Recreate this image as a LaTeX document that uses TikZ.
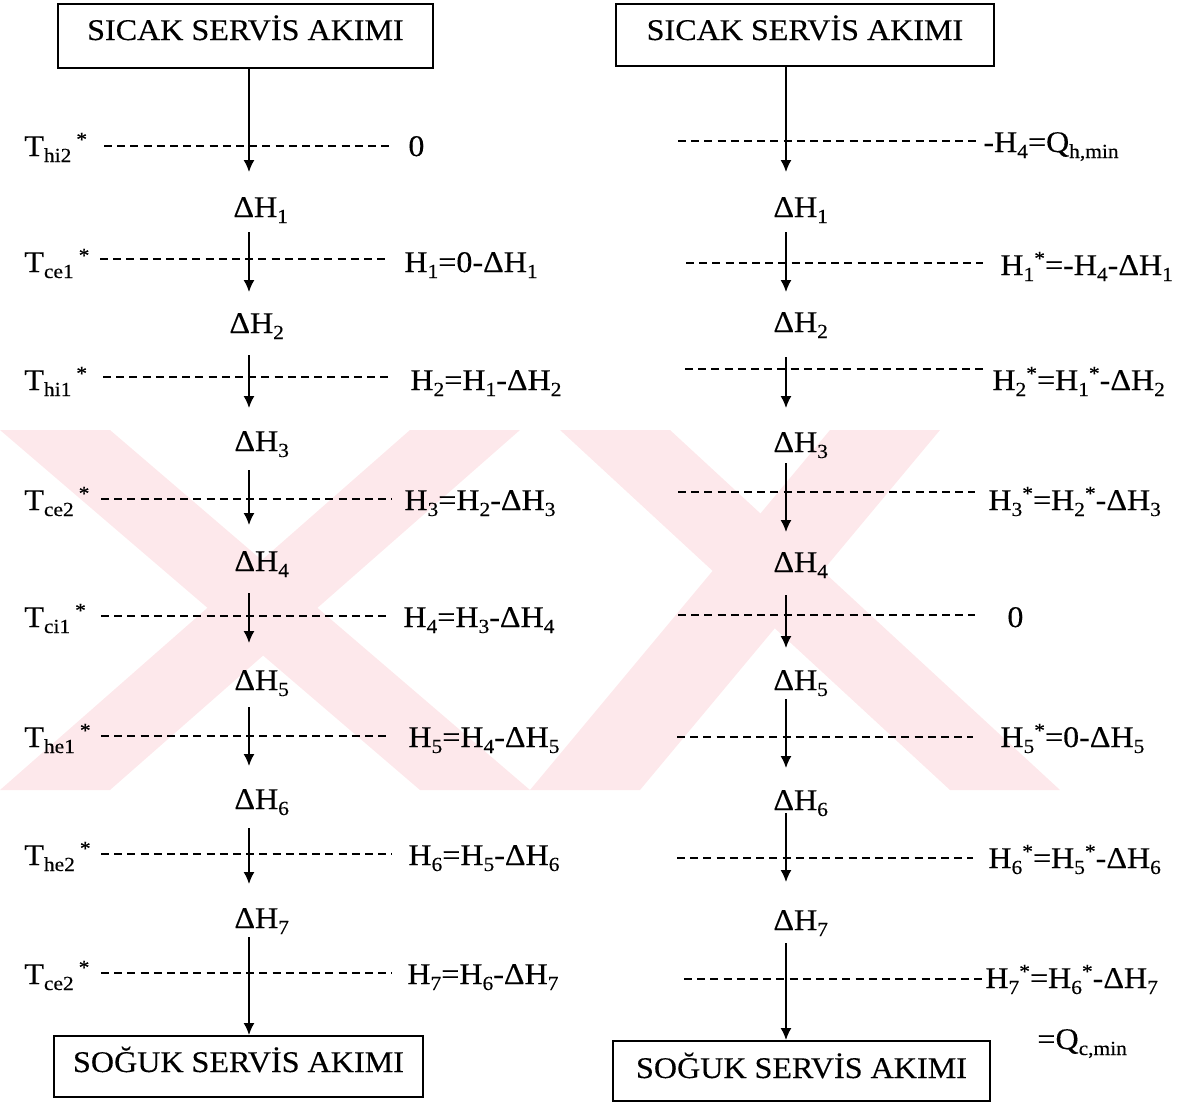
\documentclass[tikz,border=0pt]{standalone}
\usepackage{fontspec}
\setmainfont{Liberation Serif}[FakeStretch=1.07,FakeBold=0.3]
\usetikzlibrary{arrows.meta}
\definecolor{wm}{RGB}{253,232,235}
\newcommand{\sbs}[1]{\raisebox{-3pt}{\fontsize{10}{10}\selectfont #1}}
\newcommand{\sstar}{\raisebox{5pt}{\fontsize{10}{10}\selectfont *}}
\begin{document}
\begin{tikzpicture}[x=0.5pt,y=-0.5pt,
  box/.style={draw, line width=1pt, inner sep=0pt, text height=10pt, font=\fontsize{15}{15}\selectfont},
  lbl/.style={anchor=base west, inner sep=0pt, font=\fontsize{15}{15}\selectfont},
  dl/.style={dashed, dash pattern=on 4pt off 2.6pt, line width=0.75pt},
  arr/.style={line width=0.75pt, -{Latex[length=6pt,width=5.5pt]}},
  wmband/.style={fill=wm, draw=none}
]
\useasboundingbox (0,0) rectangle (1191,1103);
% watermark
\begin{scope}
\clip (0,430) rectangle (1191,790);
\fill[wmband] (0,430) -- (110,430) -- (530,790) -- (420,790) -- cycle;
\fill[wmband] (410,430) -- (520,430) -- (110,790) -- (0,790) -- cycle;
\fill[wmband] (560,430) -- (670,430) -- (1060,790) -- (950,790) -- cycle;
\fill[wmband] (830,430) -- (940,430) -- (640,790) -- (530,790) -- cycle;
\end{scope}

% boxes
\node[box, minimum width=187.5pt, minimum height=32pt, text depth=6pt] (hl) at (245.5,36) {SICAK SERVİS AKIMI};
\node[box, minimum width=189pt, minimum height=31pt, text depth=5pt] (hr) at (805,35) {SICAK SERVİS AKIMI};
\node[box, minimum width=184.5pt, minimum height=30.5pt, text depth=4.5pt] (cl) at (238.5,1066.5) {SOĞUK SERVİS AKIMI};
\node[box, minimum width=188.5pt, minimum height=30pt, text depth=3pt] (cr) at (801.5,1071) {SOĞUK SERVİS AKIMI};

% left column: T labels
\node[lbl] (t1) at (24,156) {T\sbs{hi2}\,\sstar};
\node[lbl] (t2) at (24,272) {T\sbs{ce1}\,\sstar};
\node[lbl] (t3) at (24,390) {T\sbs{hi1}\,\sstar};
\node[lbl] (t4) at (24,510) {T\sbs{ce2}\,\sstar};
\node[lbl] (t5) at (24,627) {T\sbs{ci1}\,\sstar};
\node[lbl] (t6) at (24,747) {T\sbs{he1}\,\sstar};
\node[lbl] (t7) at (24,865) {T\sbs{he2}\,\sstar};
\node[lbl] (t8) at (24,984) {T\sbs{ce2}\,\sstar};

% left dashed lines
\foreach \n/\y/\xa/\xb in {1/146/104/394, 2/259/100/386, 3/377/103/392, 4/499/101/392, 5/616/101/390, 6/736/101/391, 7/854/101/392, 8/973/101/392}{
  \coordinate (ldA\n) at (\xa,\y);
  \coordinate (ldB\n) at (\xb,\y);
  \draw[dl] (ldA\n) -- (ldB\n);
}

% left equations
\node[lbl] (le1) at (408,156) {0};
\node[lbl] (le2) at (404,272) {H\sbs{1}=0-ΔH\sbs{1}};
\node[lbl] (le3) at (410,390) {H\sbs{2}=H\sbs{1}-ΔH\sbs{2}};
\node[lbl] (le4) at (404,510) {H\sbs{3}=H\sbs{2}-ΔH\sbs{3}};
\node[lbl] (le5) at (403,627) {H\sbs{4}=H\sbs{3}-ΔH\sbs{4}};
\node[lbl] (le6) at (408,747) {H\sbs{5}=H\sbs{4}-ΔH\sbs{5}};
\node[lbl] (le7) at (408,865) {H\sbs{6}=H\sbs{5}-ΔH\sbs{6}};
\node[lbl] (le8) at (407,984) {H\sbs{7}=H\sbs{6}-ΔH\sbs{7}};

% left delta labels
\node[lbl] (ld1) at (233,217) {ΔH\sbs{1}};
\node[lbl] (ld2) at (229,333) {ΔH\sbs{2}};
\node[lbl] (ld3) at (234,451) {ΔH\sbs{3}};
\node[lbl] (ld4) at (234,571) {ΔH\sbs{4}};
\node[lbl] (ld5) at (234,690) {ΔH\sbs{5}};
\node[lbl] (ld6) at (234,809) {ΔH\sbs{6}};
\node[lbl] (ld7) at (234,928) {ΔH\sbs{7}};

% left arrows
\coordinate (la1e) at (249,172);
\draw[arr] (hl.south -| la1e) -- (la1e);
\foreach \n/\ya/\yb in {2/232/292, 3/355/408, 4/470/525, 5/593/643, 6/707/766, 7/828/884}{
  \coordinate (la\n s) at (249,\ya);
  \coordinate (la\n e) at (249,\yb);
  \draw[arr] (la\n s) -- (la\n e);
}
\coordinate (la8s) at (249,937);
\draw[arr] (la8s) -- (la8s |- cl.north);

% right dashed lines
\foreach \n/\y/\xa/\xb in {1/141/678/979, 2/263/686/983, 3/369/685/983, 4/492/678/975, 5/615/678/975, 6/737/677/973, 7/858/677/973, 8/979/684/983}{
  \coordinate (rdA\n) at (\xa,\y);
  \coordinate (rdB\n) at (\xb,\y);
  \draw[dl] (rdA\n) -- (rdB\n);
}

% right equations
\node[lbl] (re1) at (983,152) {-H\sbs{4}=Q\sbs{h,min}};
\node[lbl] (re2) at (1000,275) {H\sbs{1}\sstar=-H\sbs{4}-ΔH\sbs{1}};
\node[lbl] (re3) at (992,390) {H\sbs{2}\sstar=H\sbs{1}\sstar-ΔH\sbs{2}};
\node[lbl] (re4) at (988,510) {H\sbs{3}\sstar=H\sbs{2}\sstar-ΔH\sbs{3}};
\node[lbl] (re5) at (1007,627) {0};
\node[lbl] (re6) at (1000,747) {H\sbs{5}\sstar=0-ΔH\sbs{5}};
\node[lbl] (re7) at (988,868) {H\sbs{6}\sstar=H\sbs{5}\sstar-ΔH\sbs{6}};
\node[lbl] (re8) at (985,988) {H\sbs{7}\sstar=H\sbs{6}\sstar-ΔH\sbs{7}};
\node[lbl] (re9) at (1037,1049) {=Q\sbs{c,min}};

% right delta labels
\node[lbl] (rd1) at (773,217) {ΔH\sbs{1}};
\node[lbl] (rd2) at (773,332) {ΔH\sbs{2}};
\node[lbl] (rd3) at (773,452) {ΔH\sbs{3}};
\node[lbl] (rd4) at (773,572) {ΔH\sbs{4}};
\node[lbl] (rd5) at (773,690) {ΔH\sbs{5}};
\node[lbl] (rd6) at (773,810) {ΔH\sbs{6}};
\node[lbl] (rd7) at (773,930) {ΔH\sbs{7}};

% right arrows
\coordinate (ra1e) at (786,172);
\draw[arr] (hr.south -| ra1e) -- (ra1e);
\foreach \n/\ya/\yb in {2/232/292, 3/357/408, 4/463/532, 5/595/648, 6/699/768, 7/813/882}{
  \coordinate (ra\n s) at (786,\ya);
  \coordinate (ra\n e) at (786,\yb);
  \draw[arr] (ra\n s) -- (ra\n e);
}
\coordinate (ra8s) at (786,943);
\draw[arr] (ra8s) -- (ra8s |- cr.north);
\end{tikzpicture}
\end{document}
